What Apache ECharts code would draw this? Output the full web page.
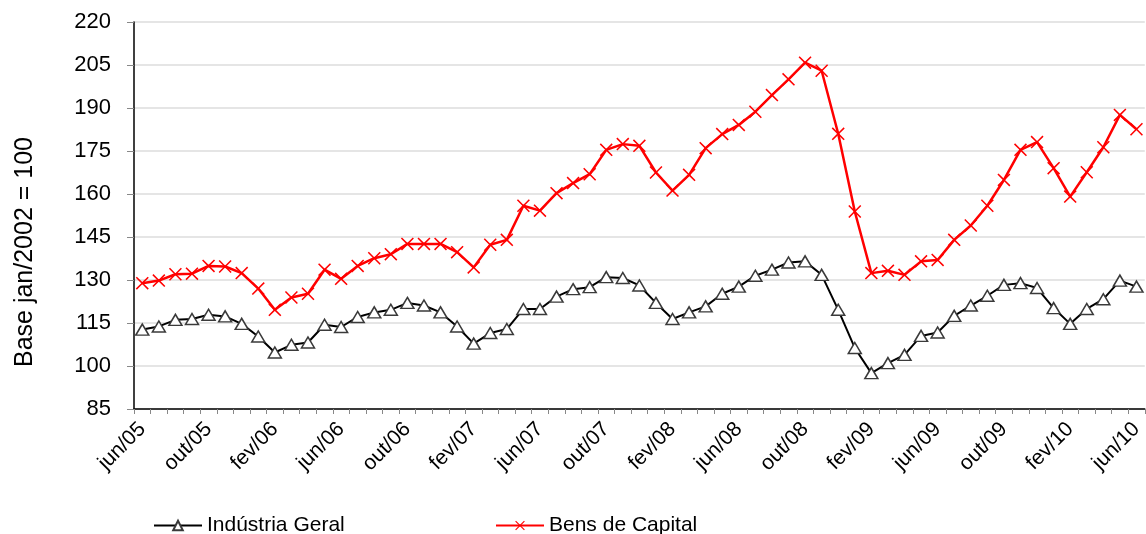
<!DOCTYPE html>
<html><head><meta charset="utf-8">
<script src="https://cdn.jsdelivr.net/npm/echarts@6/dist/echarts.min.js"></script>
<style>html,body{margin:0;padding:0;background:#fff}#c{width:1146px;height:534px}</style>
</head><body><div id="c"></div>
<script>
const categories = [
 'jun/05','jul/05','ago/05','set/05','out/05','nov/05','dez/05','jan/06','fev/06','mar/06','abr/06','mai/06',
 'jun/06','jul/06','ago/06','set/06','out/06','nov/06','dez/06','jan/07','fev/07','mar/07','abr/07','mai/07',
 'jun/07','jul/07','ago/07','set/07','out/07','nov/07','dez/07','jan/08','fev/08','mar/08','abr/08','mai/08',
 'jun/08','jul/08','ago/08','set/08','out/08','nov/08','dez/08','jan/09','fev/09','mar/09','abr/09','mai/09',
 'jun/09','jul/09','ago/09','set/09','out/09','nov/09','dez/09','jan/10','fev/10','mar/10','abr/10','mai/10',
 'jun/10'];
const industriaGeral = [
 112.7,113.8,116.1,116.4,117.9,117.3,114.7,110.3,104.7,107.4,108.2,114.4,
 113.6,117.1,118.7,119.6,122.0,121.1,118.7,113.8,107.8,111.5,112.9,119.9,
 119.9,124.2,126.8,127.5,131.0,130.7,128.1,122.0,116.4,118.7,120.8,125.2,
 127.7,131.5,133.6,136.1,136.5,131.8,119.6,106.3,97.5,101.0,103.9,110.5,
 111.7,117.5,121.1,124.5,128.3,128.9,127.2,120.2,114.7,119.9,123.3,129.8,
 127.7];
const bensCapital = [
 128.9,129.8,132.0,132.2,134.9,134.7,132.4,127.0,119.6,123.9,125.2,133.6,
 130.4,134.9,137.6,139.0,142.6,142.6,142.6,139.7,134.4,142.3,144.0,155.9,
 154.2,160.3,163.8,166.9,175.4,177.4,176.8,167.5,161.2,166.7,176.0,180.9,
 184.1,188.7,194.5,200.0,205.8,203.0,181.0,153.9,132.4,133.2,131.8,136.5,
 137.0,144.0,149.0,155.9,164.9,175.4,178.1,169.0,159.1,167.6,176.3,187.6,
 182.6];
const yTicks = {min: 85, max: 220, step: 15};
const seriesNames = ['Indústria Geral', 'Bens de Capital'];
const yAxisTitle = 'Base jan/2002 = 100';

const FONT = 'Liberation Sans, Arial, sans-serif';
const crossPath = 'path://M0,1L1,0L6,5L11,0L12,1L7,6L12,11L11,12L6,7L1,12L0,11L5,6Z';
const chart = echarts.init(document.getElementById('c'));
chart.setOption({
  animation: false,
  backgroundColor: '#fff',
  grid: {left: 134, top: 22, right: -1, bottom: 125, containLabel: false},
  graphic: [{
    type: 'text', x: 25, y: 252, rotation: Math.PI / 2,
    style: {text: yAxisTitle, font: '25px ' + FONT, fill: '#000', align: 'center', verticalAlign: 'middle'}
  }],
  legend: [
    {data: [seriesNames[0]], left: 148, top: 510, itemWidth: 48, itemHeight: 12,
     textStyle: {fontFamily: FONT, fontSize: 21, color: '#000'}},
    {data: [seriesNames[1]], left: 490, top: 510, itemWidth: 48, itemHeight: 12,
     textStyle: {fontFamily: FONT, fontSize: 21, color: '#000'}}
  ],
  xAxis: {
    type: 'category', data: categories, boundaryGap: true,
    axisLine: {lineStyle: {color: '#000', width: 1.5}},
    axisTick: {show: true, interval: 0, length: 5, lineStyle: {color: '#888'}},
    axisLabel: {interval: 3, rotate: 45, fontFamily: FONT, fontSize: 21, color: '#000', margin: 17},
    splitLine: {show: false}
  },
  yAxis: {
    type: 'value', min: yTicks.min, max: yTicks.max, interval: yTicks.step,
    axisLine: {show: true, lineStyle: {color: '#000', width: 1.5}},
    axisTick: {show: true, length: 7, lineStyle: {color: '#888'}},
    axisLabel: {fontFamily: FONT, fontSize: 22, color: '#000', margin: 23},
    splitLine: {show: true, lineStyle: {color: '#dcdcdc', width: 1.5}}
  },
  series: [
    {name: seriesNames[0], type: 'line', data: industriaGeral, z: 3,
     symbol: 'triangle', symbolSize: [13, 11], showAllSymbol: true,
     lineStyle: {color: '#000', width: 2},
     itemStyle: {color: '#fff', borderColor: '#3a3a3a', borderWidth: 1.5}},
    {name: seriesNames[1], type: 'line', data: bensCapital, z: 2,
     symbol: crossPath, symbolSize: 13, showAllSymbol: true,
     lineStyle: {color: '#ff0000', width: 2.5},
     itemStyle: {color: '#ff0000', borderWidth: 0}}
  ]
});
</script></body></html>
